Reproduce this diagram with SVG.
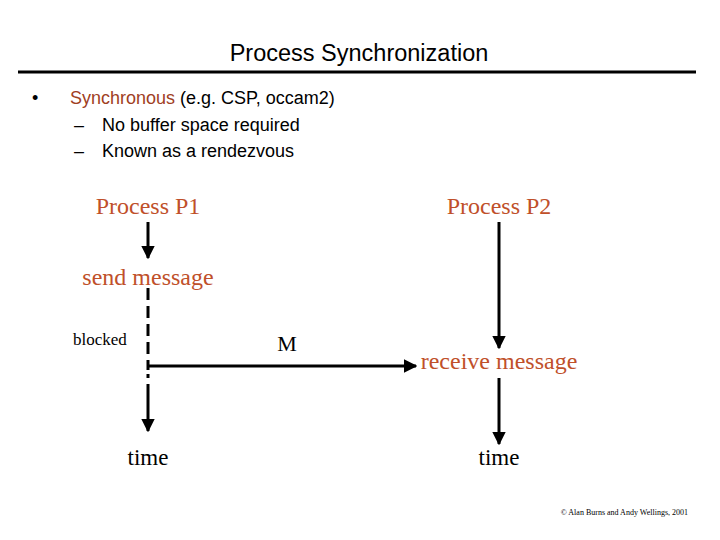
<svg xmlns="http://www.w3.org/2000/svg" width="720" height="540" viewBox="0 0 720 540">
<style>
.s{font-family:"Liberation Sans",Arial,sans-serif;font-size:18px;fill:#000}
.r{font-family:"Liberation Serif","Times New Roman",serif;fill:#c0502a;font-size:24px}
.k{font-family:"Liberation Serif","Times New Roman",serif;fill:#000}
.ln{stroke:#000;stroke-width:3;fill:none}
</style>
<defs><marker id="a" viewBox="0 0 10 10" refX="9" refY="5" markerWidth="4.5" markerHeight="4.5" orient="auto" markerUnits="strokeWidth"><path d="M0,0L10,5L0,10z" fill="#000"/></marker></defs>
<rect width="720" height="540" fill="#fff"/>
<text x="359" y="61" text-anchor="middle" class="s" style="font-size:23.5px">Process Synchronization</text>
<line x1="18" y1="72" x2="696" y2="72" stroke="#000" stroke-width="3"/>
<text x="32" y="104" class="s">•</text>
<text x="70" y="104" class="s"><tspan fill="#a0401f">Synchronous</tspan> (e.g. CSP, occam2)</text>
<text x="74" y="131" class="s">–</text><text x="102" y="131" class="s">No buffer space required</text>
<text x="74" y="157" class="s">–</text><text x="102" y="157" class="s">Known as a rendezvous</text>
<g id="p1"><text x="148" y="214" text-anchor="middle" class="r">Process P1</text></g>
<g id="p2"><text x="499" y="214" text-anchor="middle" class="r">Process P2</text></g>
<g id="send"><text x="148" y="285" text-anchor="middle" class="r">send message</text></g>
<g id="recv"><text x="499" y="369" text-anchor="middle" class="r">receive message</text></g>
<g id="blocked"><text x="73" y="345" class="k" font-size="17">blocked</text></g>
<g id="m"><text x="287" y="351" text-anchor="middle" class="k" font-size="22">M</text></g>
<g id="t1"><text x="148" y="465" text-anchor="middle" class="k" font-size="23">time</text></g>
<g id="t2"><text x="499" y="465" text-anchor="middle" class="k" font-size="23">time</text></g>
<text x="688" y="515" text-anchor="end" class="k" font-size="8">© Alan Burns and Andy Wellings, 2001</text>
<g id="connectors">
<line class="ln" x1="148" y1="222" x2="148" y2="258" marker-end="url(#a)"/>
<line class="ln" x1="148" y1="288" x2="148" y2="366" stroke-dasharray="12,6"/>
<line class="ln" x1="148" y1="366" x2="148" y2="378" stroke-dasharray="4,4"/>
<line class="ln" x1="148" y1="384" x2="148" y2="431" marker-end="url(#a)"/>
<line class="ln" x1="148" y1="366" x2="416" y2="366" marker-end="url(#a)"/>
<line class="ln" x1="499" y1="222" x2="499" y2="348" marker-end="url(#a)"/>
<line class="ln" x1="499" y1="378" x2="499" y2="444" marker-end="url(#a)"/>
</g>
</svg>
